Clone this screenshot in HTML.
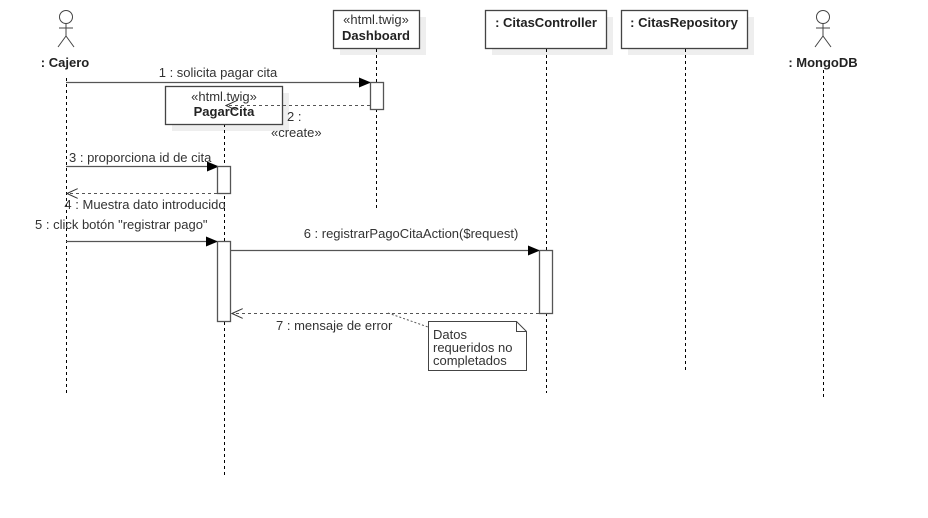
<!DOCTYPE html>
<html><head><meta charset="utf-8"><style>
html,body{margin:0;padding:0;background:#fff;width:928px;height:518px;overflow:hidden}
svg{display:block}
text{font-family:"Liberation Sans",sans-serif;font-size:13px;fill:#333}
.b{font-weight:bold;fill:#222}
</style></head><body>
<svg width="928" height="518" viewBox="0 0 928 518">
<defs>
<marker id="fa" markerWidth="12" markerHeight="10" refX="11" refY="5" orient="auto" markerUnits="userSpaceOnUse"><path d="M0,0 L12,5 L0,10 z" fill="#000"/></marker>
<marker id="oa" markerWidth="12" markerHeight="10" refX="11" refY="5" orient="auto" markerUnits="userSpaceOnUse"><path d="M0,0 L11,5 L0,10" fill="none" stroke="#333" stroke-width="1"/></marker>
</defs>
<g fill="#eee">
<rect x="340" y="17" width="86" height="38"/>
<rect x="492" y="17" width="121" height="38"/>
<rect x="628" y="17" width="126" height="38"/>
<rect x="172" y="93" width="117" height="38"/>
</g>
<g stroke="#000" stroke-dasharray="3,3" stroke-width="1">
<line x1="66.5" y1="78" x2="66.5" y2="393"/>
<line x1="376.5" y1="49" x2="376.5" y2="210"/>
<line x1="546.5" y1="49" x2="546.5" y2="393"/>
<line x1="685.5" y1="49" x2="685.5" y2="370"/>
<line x1="823.5" y1="70" x2="823.5" y2="400"/>
<line x1="224.5" y1="124" x2="224.5" y2="476"/>
</g>
<g stroke="#444" fill="#fff" stroke-width="1.3">
<rect x="333.5" y="10.5" width="86" height="38"/>
<rect x="485.5" y="10.5" width="121" height="38"/>
<rect x="621.5" y="10.5" width="126" height="38"/>
</g>
<text x="376" y="24" text-anchor="middle">«html.twig»</text>
<text x="376" y="40" text-anchor="middle" class="b">Dashboard</text>
<text x="546" y="27" text-anchor="middle" class="b">: CitasController</text>
<text x="684" y="27" text-anchor="middle" class="b">: CitasRepository</text>
<g stroke="#444" fill="none" stroke-width="1">
<circle cx="66" cy="17" r="6.5"/><line x1="66" y1="23" x2="66" y2="36"/><line x1="59" y1="28" x2="73" y2="28"/><line x1="66" y1="36" x2="58" y2="47"/><line x1="66" y1="36" x2="74" y2="47"/>
<circle cx="823" cy="17" r="6.5"/><line x1="823" y1="23" x2="823" y2="36"/><line x1="816" y1="28" x2="830" y2="28"/><line x1="823" y1="36" x2="815" y2="47"/><line x1="823" y1="36" x2="831" y2="47"/>
</g>
<text x="65" y="67" text-anchor="middle" class="b">: Cajero</text>
<text x="823" y="67" text-anchor="middle" class="b">: MongoDB</text>
<line x1="66" y1="82.5" x2="370" y2="82.5" stroke="#555" stroke-width="1.3" marker-end="url(#fa)"/>
<text x="218" y="77" text-anchor="middle">1 : solicita pagar cita</text>
<rect x="370.5" y="82.5" width="13" height="27" fill="#fff" stroke="#555" stroke-width="1.3"/>
<rect x="165.5" y="86.5" width="117" height="38" fill="#fff" stroke="#444" stroke-width="1.3"/>
<text x="224" y="101" text-anchor="middle">«html.twig»</text>
<text x="224" y="116" text-anchor="middle" class="b">PagarCita</text>
<line x1="370" y1="105.5" x2="226" y2="105.5" stroke="#555" stroke-dasharray="3,3" marker-end="url(#oa)"/>
<text x="287" y="121">2 :</text>
<text x="271" y="137">«create»</text>
<line x1="66" y1="166.5" x2="218" y2="166.5" stroke="#555" stroke-width="1.3" marker-end="url(#fa)"/>
<text x="69" y="162">3 : proporciona id de cita</text>
<rect x="217.5" y="166.5" width="13" height="27" fill="#fff" stroke="#555" stroke-width="1.3"/>
<line x1="217" y1="193.5" x2="67" y2="193.5" stroke="#555" stroke-dasharray="3,3" marker-end="url(#oa)"/>
<text x="145" y="209" text-anchor="middle">4 : Muestra dato introducido</text>
<line x1="66" y1="241.5" x2="217" y2="241.5" stroke="#555" stroke-width="1.3" marker-end="url(#fa)"/>
<text x="35" y="229">5 : click botón "registrar pago"</text>
<rect x="217.5" y="241.5" width="13" height="80" fill="#fff" stroke="#555" stroke-width="1.3"/>
<line x1="231" y1="250.5" x2="539" y2="250.5" stroke="#555" stroke-width="1.3" marker-end="url(#fa)"/>
<text x="411" y="238" text-anchor="middle">6 : registrarPagoCitaAction($request)</text>
<rect x="539.5" y="250.5" width="13" height="63" fill="#fff" stroke="#555" stroke-width="1.3"/>
<line x1="539" y1="313.5" x2="232" y2="313.5" stroke="#555" stroke-dasharray="3,3" marker-end="url(#oa)"/>
<text x="276" y="330">7 : mensaje de error</text>
<line x1="388" y1="313" x2="428" y2="327" stroke="#555" stroke-dasharray="2,2"/>
<path d="M428.5,321.5 H516.5 L526.5,331.5 V370.5 H428.5 Z M516.5,321.5 V331.5 H526.5" fill="#fff" stroke="#444" stroke-width="1"/>
<text x="433" y="339">Datos</text>
<text x="433" y="352">requeridos no</text>
<text x="433" y="365">completados</text>
</svg>
</body></html>
